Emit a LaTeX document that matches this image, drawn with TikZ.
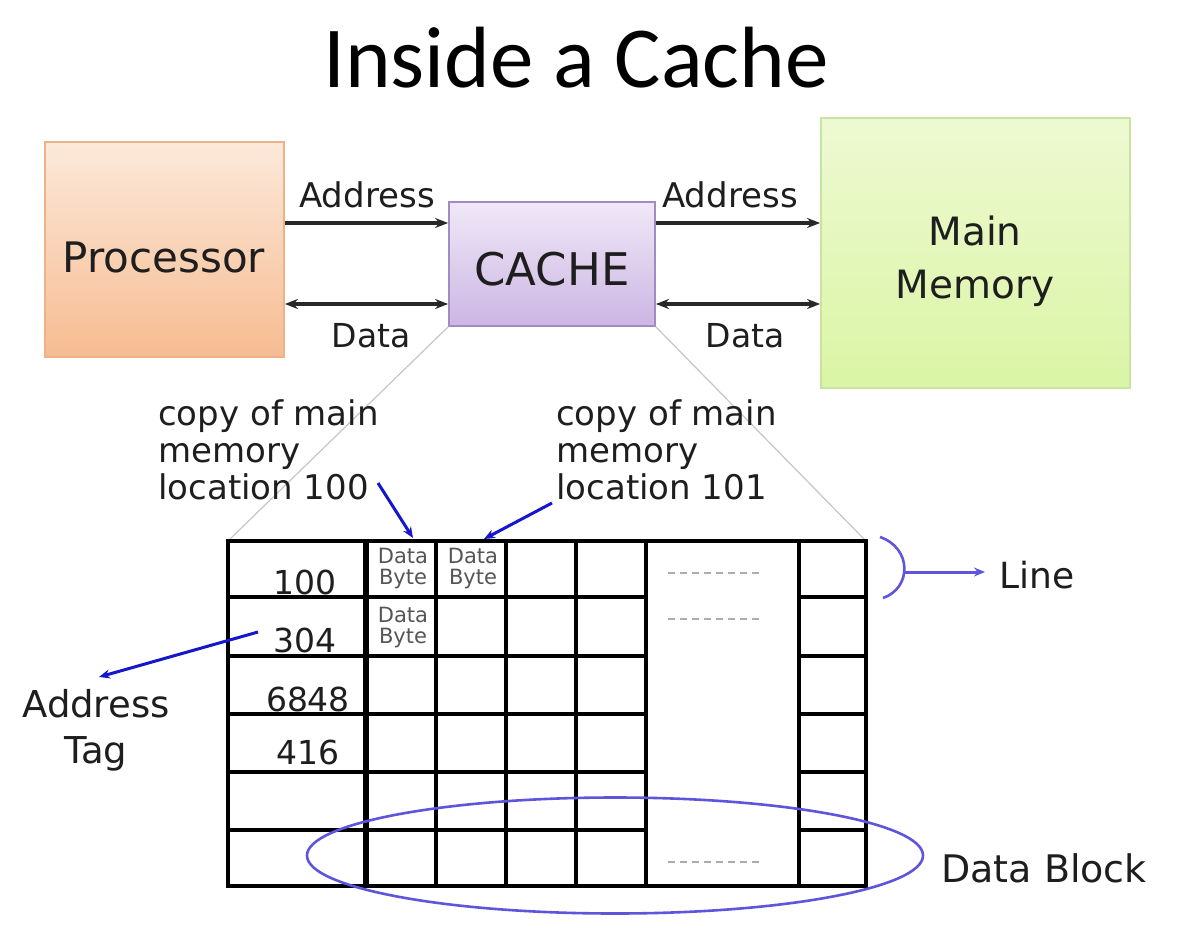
\documentclass[tikz,border=0pt]{standalone}
\usepackage{fontspec}
\setmainfont{DejaVu Sans}
\newfontfamily\titlefont{Carlito}
\usetikzlibrary{arrows.meta,shapes.geometric}
\definecolor{txt}{RGB}{30,30,30}
\definecolor{arrowgray}{RGB}{40,40,40}
\definecolor{blu}{RGB}{22,22,205}
\definecolor{purp}{RGB}{95,85,220}
\definecolor{procTop}{RGB}{252,233,218}
\definecolor{procBot}{RGB}{246,188,146}
\definecolor{procEdge}{RGB}{238,178,136}
\definecolor{cacheTop}{RGB}{240,232,247}
\definecolor{cacheBot}{RGB}{204,182,228}
\definecolor{cacheEdge}{RGB}{160,140,192}
\definecolor{memTop}{RGB}{238,249,210}
\definecolor{memBot}{RGB}{218,245,165}
\definecolor{memEdge}{RGB}{200,228,160}
\definecolor{dbgray}{RGB}{85,85,85}
\tikzset{
  fs/.style={font=\fontsize{#1}{#1}\selectfont},
  box/.style={rectangle, inner sep=0pt},
  lbl/.style={inner sep=0pt, anchor=base, text=txt},
  busarrow/.style={draw=arrowgray, line width=3.4pt, -{Stealth[length=13pt,width=10pt]}},
  busdouble/.style={draw=arrowgray, line width=3.4pt, {Stealth[length=13pt,width=10pt]}-{Stealth[length=13pt,width=10pt]}},
  bluearrow/.style={draw=blu, line width=3pt, -{Stealth[length=11pt,width=9pt]}},
  grid/.style={draw=black, line width=3.4pt},
  zoomline/.style={draw=gray!45, line width=1.2pt},
  dashy/.style={draw=gray!65, line width=2.4pt, dash pattern=on 7pt off 5pt},
  dbyte/.style={inner sep=0pt, anchor=base, text=dbgray, font=\fontsize{21}{19}\selectfont},
}
\begin{document}
\begin{tikzpicture}[x=1pt,y=-1pt]
\useasboundingbox (0,0) rectangle (1182,928);
\fill[white] (0,0) rectangle (1182,928);

% title
\node[inner sep=0pt, anchor=base, font=\titlefont\fontsize{87}{90}\selectfont] (title) at (576,88) {Inside a Cache};

% boxes
\node[box, minimum width=239pt, minimum height=215pt, top color=procTop, bottom color=procBot, draw=procEdge, line width=1.8pt] (proc) at (164.5,249.5) {};
\node[box, minimum width=206pt, minimum height=124pt, top color=cacheTop, bottom color=cacheBot, draw=cacheEdge, line width=1.8pt] (cache) at (552,264) {};
\node[box, minimum width=309pt, minimum height=270pt, top color=memTop, bottom color=memBot, draw=memEdge, line width=1.8pt] (mem) at (975.5,253) {};

\node[lbl, fs=42] (proctext) at (164,272) {Processor};
\node[lbl, fs=45] (cachetext) at (552,285) {CACHE};
\node[lbl, anchor=base, font=\fontsize{39}{53}\selectfont] (memtext) at (975,245) {\begin{tabular}[t]{@{}c@{}}Main\\Memory\end{tabular}};

% bus arrows
\coordinate (ay) at (0,223);
\coordinate (dy) at (0,304);
\draw[busarrow] (proc.east |- ay) -- (cache.west |- ay);
\draw[busdouble] (proc.east |- dy) -- (cache.west |- dy);
\draw[busarrow] (cache.east |- ay) -- (mem.west |- ay);
\draw[busdouble] (cache.east |- dy) -- (mem.west |- dy);
\node[lbl, fs=34] (addrL) at (367,207) {Address};
\node[lbl, fs=33] (dataL) at (371,347) {Data};
\node[lbl, fs=34] (addrR) at (730,207) {Address};
\node[lbl, fs=33] (dataR) at (745,347) {Data};

% table corners
\coordinate (tl) at (228,541);
\coordinate (tr) at (866,541);
\coordinate (bl) at (228,886);
\coordinate (br) at (866,886);

% zoom lines
\draw[zoomline] (cache.south west) -- (tl);
\draw[zoomline] (cache.south east) -- (tr);

% table
\foreach \y in {597,656,714,772,830}{
  \draw[grid] (228,\y) -- (646,\y);
  \draw[grid] (799,\y) -- (866,\y);
}
\foreach \x in {436,506,576,646,799}{
  \draw[grid] (\x,541) -- (\x,886);
}
\draw[draw=black, line width=5.5pt] (366,541) -- (366,886);
\draw[grid] (tl) rectangle (br);

% dashes in merged column
\draw[dashy] (668,573) -- (762,573);
\draw[dashy] (668,619) -- (762,619);
\draw[dashy] (668,862) -- (762,862);

% tags
\node[lbl, fs=33] (t100) at (305,594) {100};
\node[lbl, fs=33] (t304) at (305,652) {304};
\node[lbl, fs=33] (t6848) at (308,711) {6848};
\node[lbl, fs=33] (t416) at (308,764) {416};

% data bytes
\node[dbyte] (db1) at (403,563) {\begin{tabular}[t]{@{}c@{}}Data\\Byte\end{tabular}};
\node[dbyte] (db2) at (473,563) {\begin{tabular}[t]{@{}c@{}}Data\\Byte\end{tabular}};
\node[dbyte] (db3) at (403,622) {\begin{tabular}[t]{@{}c@{}}Data\\Byte\end{tabular}};

% copy labels
\node[lbl, anchor=base west, font=\fontsize{34}{37}\selectfont] (cp100) at (158,425) {\begin{tabular}[t]{@{}l@{}}copy of main\\memory\\location 100\end{tabular}};
\node[lbl, anchor=base west, font=\fontsize{34}{37}\selectfont] (cp101) at (556,425) {\begin{tabular}[t]{@{}l@{}}copy of main\\memory\\location 101\end{tabular}};
\coordinate (c100s) at (378,483);
\coordinate (c100e) at (413,538);
\coordinate (c101s) at (552,503);
\coordinate (c101e) at (484,539);
\draw[bluearrow] (c100s) -- (c100e);
\draw[bluearrow] (c101s) -- (c101e);

% address tag
\node[lbl, font=\fontsize{37}{46}\selectfont] (atag) at (96,717) {\begin{tabular}[t]{@{}c@{}}Address\\Tag\end{tabular}};
\coordinate (ats) at (258,632);
\coordinate (ate) at (99,677);
\draw[bluearrow] (ats) -- (ate);

% line bracket
\coordinate (lb1) at (880,537);
\coordinate (lb2) at (883,598);
\coordinate (lbm) at (903,572);
\draw[draw=purp, line width=2.6pt] (lb1) .. controls (912,548) and (912,588) .. (lb2);
\node[lbl, fs=36, anchor=base west] (linetxt) at (999,588) {Line};
\draw[bluearrow, draw=purp] (lbm) -- (985,572);

% data block ellipse
\node[ellipse, draw=purp, line width=2.6pt, minimum width=616pt, minimum height=116pt, inner sep=0pt] (blk) at (615,855.5) {};
\node[lbl, fs=38, anchor=base west] (blktxt) at (941,882) {Data Block};
\end{tikzpicture}
\end{document}
